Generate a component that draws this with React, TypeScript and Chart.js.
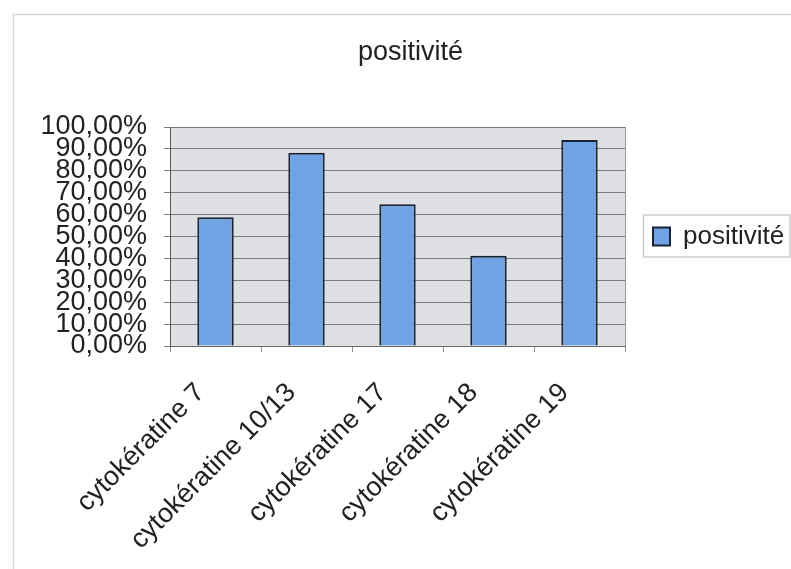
import React, { useEffect, useRef } from "react";
import { Chart, registerables } from "chart.js";

Chart.register(...registerables);

const categories: string[] = [
  "cytokératine 7",
  "cytokératine 10/13",
  "cytokératine 17",
  "cytokératine 18",
  "cytokératine 19",
];
const seriesName = "positivité";
const positivite: number[] = [0.5882, 0.8824, 0.6471, 0.4118, 0.9412];
const yTickLabels: string[] = [
  "0,00%", "10,00%", "20,00%", "30,00%", "40,00%", "50,00%",
  "60,00%", "70,00%", "80,00%", "90,00%", "100,00%",
];
const chartTitle = "positivité";

const W = 791;
const H = 569;
const FONT_FAMILY = '"Liberation Sans", Arial, Helvetica, sans-serif';
const FS = 27;
const LEGEND_FS = 26;

export default function App() {
  const ref = useRef<HTMLCanvasElement | null>(null);

  useEffect(() => {
    const canvas = ref.current;
    if (!canvas) return;

    const plotLeft = 170;
    const plotRight = 625;
    const padLeft = 30;

    const framePlugin = {
      id: "frame",
      beforeDraw(chart: any) {
        const { ctx, chartArea } = chart;
        ctx.save();
        ctx.fillStyle = "#ffffff";
        ctx.fillRect(0, 0, W, H);
        ctx.strokeStyle = "#d6d6d6";
        ctx.lineWidth = 1.5;
        ctx.strokeRect(13.5, 14.5, W + 20, H + 20);
        ctx.fillStyle = "#dfe0e3";
        ctx.fillRect(chartArea.left, chartArea.top, chartArea.right - chartArea.left, chartArea.bottom - chartArea.top);
        ctx.restore();
      },
      afterDraw(chart: any) {
        const { ctx, chartArea } = chart;
        ctx.save();
        ctx.strokeStyle = "#9a9a9a";
        ctx.lineWidth = 1;
        ctx.beginPath();
        ctx.moveTo(chartArea.right + 0.5, chartArea.top);
        ctx.lineTo(chartArea.right + 0.5, chartArea.bottom);
        ctx.stroke();
        const lg = chart.legend;
        if (lg && lg.legendHitBoxes && lg.legendHitBoxes[0]) {
          const hb = lg.legendHitBoxes[0];
          const cy = hb.top + hb.height / 2;
          ctx.strokeStyle = "#c4c4c4";
          ctx.lineWidth = 1.2;
          ctx.strokeRect(hb.left - 9.5, cy - 21.5, W - (hb.left - 9.5) - 1, 42);
        }
        ctx.restore();
      },
    };

    const chart = new Chart(canvas, {
      type: "bar",
      data: {
        labels: categories,
        datasets: [
          {
            label: seriesName,
            data: positivite,
            backgroundColor: "#6fa3e4",
            borderColor: "#1a2333",
            borderWidth: 2,
            barPercentage: 0.4,
            categoryPercentage: 1,
          },
        ],
      },
      options: {
        responsive: false,
        animation: false,
        layout: { padding: { top: 0, left: padLeft, right: 0, bottom: 0 } },
        plugins: {
          title: {
            display: true,
            text: chartTitle,
            color: "#222222",
            font: { family: FONT_FAMILY, size: FS, weight: "normal", lineHeight: 1.2 },
            padding: { top: 36, bottom: 127 - 36 - FS * 1.2 },
          },
          legend: {
            display: true,
            position: "right",
            fullSize: false,
            maxWidth: W - plotRight,
            labels: {
              color: "#222222",
              font: { family: FONT_FAMILY, size: LEGEND_FS },
              boxWidth: 17,
              boxHeight: 18,
              padding: 28,
            },
          },
          tooltip: { enabled: false },
        },
        scales: {
          x: {
            afterFit(scale: any) {
              scale.height = H - 346;
            },
            grid: {
              display: true,
              drawOnChartArea: false,
              drawTicks: true,
              tickLength: 6,
              color: "#8a8a8a",
              offset: true,
            },
            border: { display: true, color: "#6a6a6a", width: 1 },
            ticks: {
              autoSkip: false,
              minRotation: 45,
              maxRotation: 45,
              labelOffset: -15,
              padding: 25,
              color: "#222222",
              font: { family: FONT_FAMILY, size: FS },
            },
          },
          y: {
            min: 0,
            max: 1,
            afterFit(scale: any) {
              scale.width = plotLeft - padLeft;
            },
            grid: {
              color: "#7a7a7a",
              lineWidth: 1,
              drawTicks: true,
              tickLength: 6,
            },
            border: { display: true, color: "#555555", width: 1 },
            ticks: {
              stepSize: 0.1,
              autoSkip: false,
              padding: 17,
              color: "#222222",
              font: { family: FONT_FAMILY, size: FS, lineHeight: 1 },
              callback: (_v: any, i: number) => yTickLabels[i],
            },
          },
        },
      },
      plugins: [framePlugin],
    });

    return () => chart.destroy();
  }, []);

  return (
    <div style={{ position: "absolute", left: 0, top: 0, width: W, height: H, background: "#fff" }}>
      <canvas ref={ref} width={W} height={H} style={{ display: "block", width: W, height: H }} />
    </div>
  );
}
